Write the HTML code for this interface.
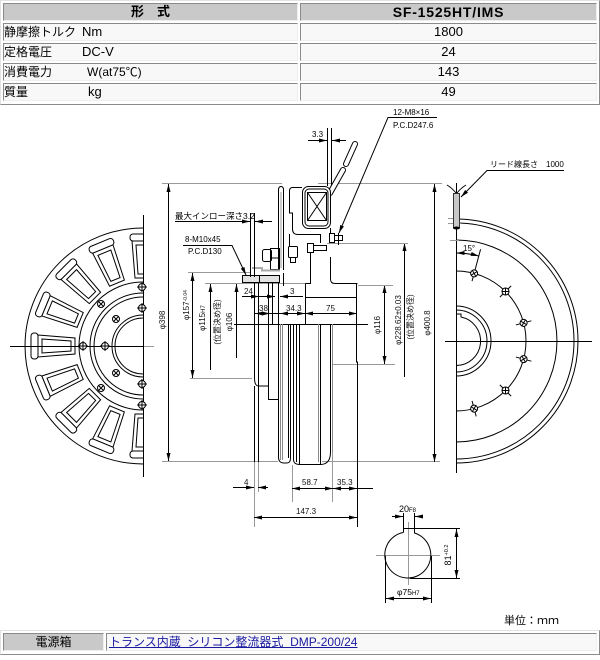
<!DOCTYPE html>
<html><head><meta charset="utf-8"><style>
*{margin:0;padding:0;box-sizing:border-box}
html,body{width:600px;height:660px;background:#fff;overflow:hidden}
body{position:relative;font-family:"Liberation Sans","Noto Sans CJK JP",sans-serif;color:#000}
.t{position:absolute;border:1px solid;border-color:#e2e2e2 #8a8a8a #8a8a8a #e2e2e2}
.c{position:absolute;border:1px solid;border-color:#8a8a8a #eeeeee #eeeeee #8a8a8a;background:#f8f8f8;height:18px;font-size:12px;line-height:16px;white-space:nowrap}
.g{background:#c9c9c9}
.hd{font-weight:bold;text-align:center;font-size:13px}
.v{text-align:center;font-size:13px}
.s{position:absolute;top:0}
a{color:#1a1aa0;text-decoration:underline}
svg{position:absolute;left:0;top:0}
</style></head><body>

<div class="t" style="left:0;top:0;width:600px;height:105px"></div>
<div class="c g hd" style="left:3px;top:3px;width:295px">形　式</div>
<div class="c g hd" style="left:300px;top:3px;width:297px;font-size:14px;letter-spacing:0.8px">SF-1525HT/IMS</div>

<div class="c" style="left:3px;top:23px;width:295px"><span class="s" style="left:0">静摩擦トルク</span><span class="s" style="left:78px;font-size:13px">Nm</span></div>
<div class="c v" style="left:300px;top:23px;width:297px">1800</div>

<div class="c" style="left:3px;top:43px;width:295px"><span class="s" style="left:0">定格電圧</span><span class="s" style="left:78px;font-size:13px">DC-V</span></div>
<div class="c v" style="left:300px;top:43px;width:297px">24</div>

<div class="c" style="left:3px;top:63px;width:295px"><span class="s" style="left:0">消費電力</span><span class="s" style="left:83px;font-size:12px">W(at75℃)</span></div>
<div class="c v" style="left:300px;top:63px;width:297px">143</div>

<div class="c" style="left:3px;top:83px;width:295px"><span class="s" style="left:0">質量</span><span class="s" style="left:84px;font-size:13px">kg</span></div>
<div class="c v" style="left:300px;top:83px;width:297px">49</div>

<svg width="600" height="660" viewBox="0 0 600 660" font-family="Liberation Sans, Noto Sans CJK JP, sans-serif">
<defs>
<marker id="a" viewBox="0 0 8 4" refX="8" refY="2" markerWidth="8" markerHeight="4" orient="auto-start-reverse" markerUnits="userSpaceOnUse"><path d="M0,0L8,2L0,4z" fill="#000"/></marker>
<clipPath id="cl"><rect x="0" y="100" width="143" height="400"/></clipPath>
<g id="slot">
 <path d="M-105,-11L-68,-8L-68,8L-105,11Z" fill="#fff" stroke="#000"/>
 <path d="M-101,-7L-72,-5L-72,5L-101,7Z" fill="none" stroke="#000"/>
 <rect x="-112" y="-13" width="7" height="26" rx="3" fill="#fff" stroke="#000"/>
</g>
<g id="bx"><circle r="3.5" fill="#fff" stroke="#000"/><path d="M-2.5,-2.5L2.5,2.5M-2.5,2.5L2.5,-2.5" stroke="#000"/></g>
<g id="bp"><circle r="3.5" fill="#fff" stroke="#000"/><path d="M-5,0H5M0,-5V5" stroke="#000"/></g>
</defs>

<!-- ===== LEFT DISC ===== -->
<g clip-path="url(#cl)" fill="none" stroke="#000">
<path d="M143,228A118,118 0 0 0 143,464"/>
<path d="M143,282A64,64 0 0 0 143,410"/>
<path d="M143,293A53,53 0 0 0 143,399"/>
<path d="M143,297A49,49 0 0 0 143,395"/>
<path d="M143,315A31,31 0 0 0 143,377"/>
<path d="M143,318A28,28 0 0 0 143,374"/>
<use href="#slot" transform="translate(143,346) rotate(90)"/>
<use href="#slot" transform="translate(143,346) rotate(67.5)"/>
<use href="#slot" transform="translate(143,346) rotate(45)"/>
<use href="#slot" transform="translate(143,346) rotate(22.5)"/>
<use href="#slot" transform="translate(143,346)"/>
<use href="#slot" transform="translate(143,346) rotate(-22.5)"/>
<use href="#slot" transform="translate(143,346) rotate(-45)"/>
<use href="#slot" transform="translate(143,346) rotate(-67.5)"/>
<use href="#slot" transform="translate(143,346) rotate(-90)"/>
<use href="#bx" x="101" y="304"/>
<use href="#bx" x="116" y="319"/>
<use href="#bx" x="116" y="373"/>
<use href="#bx" x="101" y="388"/>
</g>
<path d="M10,346.5H143" stroke="#000"/>
<path d="M143,346.5H154" stroke="#999"/>
<path d="M143.5,215V477" stroke="#000"/>
<use href="#bp" x="83" y="346"/>
<use href="#bp" x="105" y="346"/>
<use href="#bp" x="142" y="287"/>
<use href="#bp" x="142" y="308"/>
<use href="#bp" x="142" y="384"/>
<use href="#bp" x="142" y="405"/>

<!-- ===== RIGHT DISC ===== -->
<g fill="none" stroke="#000">
<path d="M456,219A122,122 0 0 1 456,463"/>
<path d="M456,223A118,118 0 0 1 456,459"/>
<path d="M456,240A101,101 0 0 1 456,442"/>
<path d="M456,271A70,70 0 0 1 456,411"/>
<path d="M456,306A35,35 0 0 1 456,376"/>
<path d="M456,310A31,31 0 0 1 456,372"/>
<path d="M456,314H461V317A24.5,24.5 0 0 1 456,365.5"/>
<path d="M456.5,183V473"/>
<path d="M445,341.5H592"/>
</g>
<g stroke="#000">
<g transform="translate(456,341) rotate(15)"><line x1="0" y1="-62" x2="0" y2="-95"/><use href="#bx" y="-70"/></g>
<g transform="translate(456,341) rotate(45)"><line x1="0" y1="-62" x2="0" y2="-78"/><use href="#bx" y="-70"/></g>
<g transform="translate(456,341) rotate(75)"><line x1="0" y1="-62" x2="0" y2="-78"/><use href="#bx" y="-70"/></g>
<g transform="translate(456,341) rotate(105)"><line x1="0" y1="-62" x2="0" y2="-78"/><use href="#bx" y="-70"/></g>
<g transform="translate(456,341) rotate(135)"><line x1="0" y1="-62" x2="0" y2="-78"/><use href="#bx" y="-70"/></g>
<g transform="translate(456,341) rotate(165)"><line x1="0" y1="-62" x2="0" y2="-78"/><use href="#bx" y="-70"/></g>
</g>
<path d="M456.5,253A88,88 0 0 1 478.8,256" fill="none" stroke="#000" marker-start="url(#a)" marker-end="url(#a)"/>
<text x="463" y="251" font-size="8">15°</text>
<path d="M448,218.5H461M448,223.5H461M450,240.5H459" stroke="#999"/>
<!-- lead wire -->
<path d="M456.5,184V193M456,193Q452,188 447,185M457,193Q461,188 466,185" fill="none" stroke="#000"/>
<rect x="453.5" y="193.5" width="6" height="34" fill="#c8c8c8" stroke="#333"/>
<ellipse cx="456.5" cy="228" rx="3.5" ry="1.5" fill="#000"/>
<path d="M564,170.5H487L461,197" fill="none" stroke="#000" marker-end="url(#a)"/>
<text x="490" y="167" font-size="8">リード線長さ　1000</text>

<!-- ===== SECTION ===== -->
<path d="M162,183.5H282M318,183.5H442M162,461.5H278M322,461.5H440" stroke="#999"/>
<!-- dims vertical -->
<g stroke="#000">
<line x1="168.5" y1="184" x2="168.5" y2="461" marker-start="url(#a)" marker-end="url(#a)"/>
<line x1="192.5" y1="273" x2="192.5" y2="378" marker-start="url(#a)" marker-end="url(#a)"/>
<line x1="210.5" y1="284" x2="210.5" y2="370" marker-start="url(#a)"/>
<line x1="236.5" y1="284" x2="236.5" y2="358" marker-start="url(#a)"/>
<line x1="384.5" y1="285" x2="384.5" y2="364" marker-start="url(#a)" marker-end="url(#a)"/>
<line x1="404.5" y1="243" x2="404.5" y2="377" marker-start="url(#a)"/>
<line x1="434.5" y1="184" x2="434.5" y2="462" marker-start="url(#a)" marker-end="url(#a)"/>
</g>
<path d="M188,272.5H250M190,378.5H252M205,283.5H307M358,285.5H393M333,364.5H395M327,243.5H408" stroke="#999"/>
<g font-size="8" fill="#111" text-anchor="middle">
<text transform="translate(165,320) rotate(-90)">φ398</text>
<text transform="translate(189,305) rotate(-90)">φ157<tspan font-size="5" dy="-2">-0.04</tspan></text>
<text transform="translate(205,318) rotate(-90)">φ115<tspan font-size="6">H7</tspan></text>
<text transform="translate(220,322) rotate(-90)">(位置決め径)</text>
<text transform="translate(232,322) rotate(-90)">φ106</text>
<text transform="translate(380,325) rotate(-90)">φ116</text>
<text transform="translate(401,320) rotate(-90)">φ228.62±0.03</text>
<text transform="translate(413,317) rotate(-90)">(位置決め径)</text>
<text transform="translate(430,323) rotate(-90)">φ400.8</text>
</g>

<!-- 3.3 -->
<path d="M327.5,128V186M331.5,128V186" stroke="#000"/>
<line x1="308" y1="140.5" x2="327" y2="140.5" stroke="#000" marker-end="url(#a)"/>
<line x1="346" y1="140.5" x2="332" y2="140.5" stroke="#000" marker-end="url(#a)"/>
<text x="312" y="137" font-size="8">3.3</text>
<!-- 12-M8 -->
<text x="393" y="115" font-size="8">12-M8×16</text>
<text x="393" y="128" font-size="8">P.C.D247.6</text>
<path d="M437,117.5H388L339,233" fill="none" stroke="#000" marker-end="url(#a)"/>
<!-- slanted bar -->
<path d="M355,144L346,164M343,170L330,193" stroke="#000" stroke-width="6" stroke-linecap="round"/>
<path d="M355,144L346,164M343,170L330,193" stroke="#fff" stroke-width="4" stroke-linecap="round"/>

<!-- body -->
<g fill="none" stroke="#000">
<path d="M278.5,270V190Q278.5,186.5 281,186.5Q283.5,186.5 283.5,190V270"/>
<path d="M281,192V268" stroke="#999"/>
<path d="M302,187.5H292.5Q289.5,187.5 289.5,191V213H292.5V229Q292.5,234.5 298,234.5H320.5V243"/>
<path d="M289.5,234V247"/>
<rect x="302.5" y="186.5" width="28" height="42" rx="6" fill="#fff"/>
<rect x="305" y="189" width="23" height="37" rx="4"/>
<rect x="307.5" y="192.5" width="19" height="28"/>
<path d="M307.5,192.5L326.5,220.5M326.5,192.5L307.5,220.5"/>
<path d="M330.5,228V243"/>
<rect x="329.5" y="233.5" width="5" height="9" fill="#fff"/>
<rect x="334.5" y="235.5" width="8" height="5" fill="#fff"/>
<path d="M338.5,233V245"/>
<rect x="307.5" y="243.5" width="6" height="9" fill="#fff"/>
<rect x="313.5" y="245.5" width="13" height="5" fill="#fff"/>
<path d="M310.5,253V283.5H305.5"/>
<path d="M330.5,257V279Q330.5,283.5 335,283.5H357.5"/>
<path d="M305.5,283.5V324"/>
<path d="M305,297.5H357"/>
<path d="M356.5,283V362H357.5V527"/>
<!-- left assembly -->
<rect x="262.5" y="249.5" width="9" height="12" rx="2"/>
<rect x="270.5" y="248.5" width="9" height="21"/>
<path d="M271,258H279"/>
<rect x="288.5" y="246.5" width="9" height="11" rx="1"/>
<rect x="290.5" y="257.5" width="5" height="5"/>
<path d="M252,268H262V270.5H280" stroke="#aaa" stroke-width="2"/>
<rect x="242.5" y="275.5" width="37" height="7" fill="#e2e2e2"/>
<path d="M259.5,275V283M283.5,273V286"/>
<!-- axis -->
<path d="M234,324.5H368"/>
<!-- lower section -->
<path d="M254.5,283V378Q254.5,386 258.5,386H268.5"/>
<path d="M258.5,283V386"/>
<path d="M258.5,386V462M254.5,386V462"/>
<path d="M268.5,283V399.5H278.5"/>
<path d="M272.5,283V324"/>
<path d="M278.5,283V458Q279,463 284,463H287Q290.5,463 290.5,458V324"/>
<path d="M280.5,324V460M282.5,324V460" stroke="#888"/>
<path d="M288.5,324V458M293.5,324V460M296.5,324V462M299.5,324V464"/>
<path d="M293.5,460Q294,464.5 299.5,464.5H321Q330.5,464 330.5,452V324"/>
<path d="M318.5,324V462" stroke="#888"/>
<path d="M320.5,324V464"/>
<path d="M332.5,324V452" stroke="#888"/>
</g>
<!-- extension lines bottom -->
<path d="M254.5,462V527M258.5,462V492M292.5,465V502M332.5,452V502" stroke="#999"/>

<!-- horizontal dims -->
<g stroke="#000">
<line x1="242" y1="296.5" x2="259" y2="296.5" marker-end="url(#a)"/>
<line x1="259" y1="296.5" x2="275" y2="296.5" marker-end="url(#a)"/>
<line x1="303" y1="296.5" x2="280" y2="296.5" marker-end="url(#a)"/>
<line x1="255" y1="313.5" x2="270" y2="313.5" marker-start="url(#a)" marker-end="url(#a)"/>
<line x1="270" y1="313.5" x2="280" y2="313.5"/>
<line x1="280" y1="313.5" x2="305" y2="313.5" marker-start="url(#a)" marker-end="url(#a)"/>
<line x1="305" y1="313.5" x2="357" y2="313.5" marker-start="url(#a)" marker-end="url(#a)"/>
<line x1="233" y1="487.5" x2="254" y2="487.5" marker-end="url(#a)"/>
<line x1="268" y1="487.5" x2="258" y2="487.5" marker-end="url(#a)"/>
<line x1="292" y1="488.5" x2="333" y2="488.5" marker-start="url(#a)" marker-end="url(#a)"/>
<line x1="333" y1="488.5" x2="357" y2="488.5" marker-start="url(#a)" marker-end="url(#a)"/>
<line x1="357" y1="488.5" x2="373" y2="488.5"/>
<line x1="254" y1="517.5" x2="357" y2="517.5" marker-start="url(#a)" marker-end="url(#a)"/>
</g>
<g font-size="8" fill="#111">
<text x="244" y="294">24</text>
<text x="290" y="294">3</text>
<text x="259" y="311">38</text>
<text x="286" y="311">34.3</text>
<text x="326" y="311">75</text>
<text x="244" y="485">4</text>
<text x="302" y="485">58.7</text>
<text x="337" y="485">35.3</text>
<text x="296" y="514">147.3</text>
</g>

<!-- left labels -->
<path d="M250.5,213V277M254.5,213V277" stroke="#000"/>
<line x1="175" y1="221.5" x2="250" y2="221.5" stroke="#000" marker-end="url(#a)"/>
<line x1="272" y1="221.5" x2="255" y2="221.5" stroke="#000" marker-end="url(#a)"/>
<text x="175" y="219" font-size="8.5">最大インロー深さ3.2</text>
<text x="185" y="242" font-size="8">8-M10x45</text>
<text x="188" y="254" font-size="8">P.C.D130</text>
<path d="M183,245.5H232L246,275" fill="none" stroke="#000" marker-end="url(#a)"/>

<!-- keyway -->
<path d="M376,555.5H440M408.5,522V585" stroke="#999"/>
<path d="M403.5,532.4V528.5H414.5V533A23,23 0 1 1 403.5,532.4" fill="none" stroke="#000"/>
<path d="M403.5,513V528M414.5,513V528M414,528.5H460M410,578.5H460M385.5,556V603M431.5,556V603" stroke="#000"/>
<line x1="392" y1="516.5" x2="403" y2="516.5" stroke="#000" marker-end="url(#a)"/>
<line x1="423" y1="516.5" x2="415" y2="516.5" stroke="#000" marker-end="url(#a)"/>
<line x1="456.5" y1="529" x2="456.5" y2="578" stroke="#000" marker-start="url(#a)" marker-end="url(#a)"/>
<line x1="386" y1="598.5" x2="431" y2="598.5" stroke="#000" marker-start="url(#a)" marker-end="url(#a)"/>
<text x="399" y="512" font-size="9">20<tspan font-size="6">F8</tspan></text>
<text transform="translate(451,555) rotate(-90)" font-size="9" text-anchor="middle">81<tspan font-size="5.5" dy="-3">+0.2</tspan></text>
<text x="397" y="595" font-size="8.5">φ75<tspan font-size="6">H7</tspan></text>

<text x="504" y="624" font-size="11" font-family="Liberation Sans, Noto Sans CJK JP, sans-serif">単位：ｍｍ</text>
</svg>

<div class="t" style="left:0;top:630px;width:600px;height:25px"></div>
<div class="c g" style="left:3px;top:633px;width:101px;text-align:center">電源箱</div>
<div class="c" style="left:106px;top:633px;width:491px;padding-left:2px"><a>トランス内蔵&nbsp;&nbsp;シリコン整流器式&nbsp;&nbsp;DMP-200/24</a></div>

</body></html>
